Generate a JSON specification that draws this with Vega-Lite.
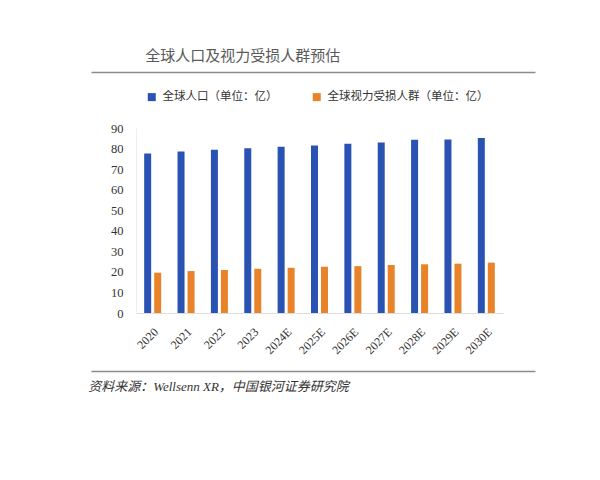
{
  "$schema": "https://vega.github.io/schema/vega-lite/v6.json",
  "background": "white",
  "padding": {"left": 88, "top": 48, "right": 10, "bottom": 10},
  "spacing": 6,
  "resolve": {"scale": {"color": "independent"}, "legend": {"color": "independent"}},
  "config": {"view": {"stroke": null}, "font": "Liberation Serif, Noto Sans CJK SC"},
  "vconcat": [
    {
      "width": 367,
      "height": 1,
      "title": {"text": "全球人口及视力受损人群预估", "anchor": "start", "dx": 57, "offset": 5, "fontSize": 15, "fontWeight": "normal", "color": "#5a5a5a", "font": "Noto Sans CJK SC"},
      "data": {"values": [{"v": 0}, {"v": 1}]},
      "mark": {"type": "point", "opacity": 0},
      "encoding": {
        "x": {"field": "v", "type": "quantitative", "scale": {"domain": [0, 1], "nice": false, "range": [-45, 399]},
          "axis": {"orient": "bottom", "domain": true, "domainColor": "#8c8c8c", "domainWidth": 1.5, "ticks": false, "labels": false, "grid": false, "title": null}}
      }
    },
    {
      "width": 367,
      "height": 185,
      "data": {"values": [
        {"year": "2020", "series": "全球人口（单位：亿）", "value": 77.6},
        {"year": "2021", "series": "全球人口（单位：亿）", "value": 78.6},
        {"year": "2022", "series": "全球人口（单位：亿）", "value": 79.4},
        {"year": "2023", "series": "全球人口（单位：亿）", "value": 80.1},
        {"year": "2024E", "series": "全球人口（单位：亿）", "value": 80.9},
        {"year": "2025E", "series": "全球人口（单位：亿）", "value": 81.5},
        {"year": "2026E", "series": "全球人口（单位：亿）", "value": 82.3},
        {"year": "2027E", "series": "全球人口（单位：亿）", "value": 83.0},
        {"year": "2028E", "series": "全球人口（单位：亿）", "value": 84.3},
        {"year": "2029E", "series": "全球人口（单位：亿）", "value": 84.4},
        {"year": "2030E", "series": "全球人口（单位：亿）", "value": 85.1},
        {"year": "2020", "series": "全球视力受损人群（单位：亿）", "value": 19.6},
        {"year": "2021", "series": "全球视力受损人群（单位：亿）", "value": 20.4},
        {"year": "2022", "series": "全球视力受损人群（单位：亿）", "value": 20.9},
        {"year": "2023", "series": "全球视力受损人群（单位：亿）", "value": 21.5},
        {"year": "2024E", "series": "全球视力受损人群（单位：亿）", "value": 22.0},
        {"year": "2025E", "series": "全球视力受损人群（单位：亿）", "value": 22.5},
        {"year": "2026E", "series": "全球视力受损人群（单位：亿）", "value": 22.8},
        {"year": "2027E", "series": "全球视力受损人群（单位：亿）", "value": 23.3},
        {"year": "2028E", "series": "全球视力受损人群（单位：亿）", "value": 23.7},
        {"year": "2029E", "series": "全球视力受损人群（单位：亿）", "value": 24.0},
        {"year": "2030E", "series": "全球视力受损人群（单位：亿）", "value": 24.5}
      ]},
      "mark": {"type": "bar"},
      "encoding": {
        "x": {"field": "year", "type": "nominal", "sort": null,
          "scale": {"paddingInner": 0.49, "paddingOuter": 0.245},
          "axis": {"title": null, "labelAngle": -45, "labelFontSize": 12, "labelColor": "#333333", "labelFont": "Liberation Serif", "ticks": false, "domainColor": "#dddddd", "labelPadding": 13, "minExtent": 49, "maxExtent": 49}},
        "xOffset": {"field": "series", "type": "nominal", "sort": ["全球人口（单位：亿）", "全球视力受损人群（单位：亿）"], "scale": {"paddingInner": 0.3}},
        "y": {"field": "value", "type": "quantitative", "scale": {"domain": [0, 90], "nice": false},
          "axis": {"title": null, "values": [0, 10, 20, 30, 40, 50, 60, 70, 80, 90], "grid": false, "ticks": false, "domain": true, "domainColor": "#eeeeee", "labelFontSize": 12.5, "labelColor": "#333333", "labelFont": "Liberation Serif", "labelPadding": 13, "minExtent": 45, "maxExtent": 45}},
        "color": {"field": "series", "type": "nominal",
          "scale": {"domain": ["全球人口（单位：亿）", "全球视力受损人群（单位：亿）"], "range": ["#2a52b3", "#e8832a"]},
          "legend": {"orient": "top", "offset": 15, "padding": 10, "direction": "horizontal", "title": null, "symbolType": "square", "symbolSize": 64, "symbolStrokeWidth": 0, "labelFontSize": 11.5, "labelFont": "Noto Sans CJK SC", "labelColor": "#333333", "columnPadding": 33, "labelOffset": 5, "labelLimit": 300}}
      }
    },
    {
      "width": 367,
      "height": 1,
      "title": {"text": "资料来源：Wellsenn XR，中国银河证券研究院", "orient": "bottom", "anchor": "start", "offset": 7, "fontSize": 13, "fontStyle": "italic", "fontWeight": "normal", "color": "#333333", "font": "Liberation Serif, Noto Sans CJK SC"},
      "data": {"values": [{"v": 0}, {"v": 1}]},
      "mark": {"type": "point", "opacity": 0},
      "encoding": {
        "x": {"field": "v", "type": "quantitative", "scale": {"domain": [0, 1], "nice": false, "range": [-45, 399]},
          "axis": {"orient": "top", "domain": true, "domainColor": "#8c8c8c", "domainWidth": 1.5, "ticks": false, "labels": false, "grid": false, "title": null}}
      }
    }
  ]
}
